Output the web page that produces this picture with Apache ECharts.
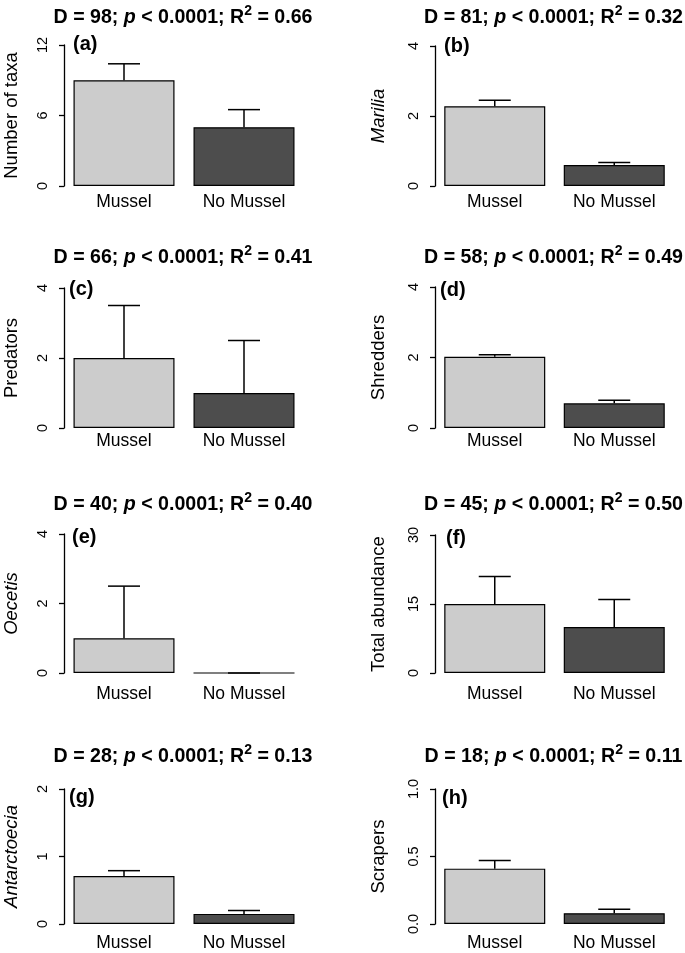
<!DOCTYPE html>
<html>
<head>
<meta charset="utf-8">
<script src="https://cdn.jsdelivr.net/npm/echarts@6/dist/echarts.min.js"></script>
<style>
html,body{margin:0;padding:0;background:#fff;}
#chart{width:685px;height:953px;}
</style>
</head>
<body>
<div id="chart"></div>
<script>
// ---- data ----
const categories = ['Mussel', 'No Mussel'];
const panelTags = ['(a)', '(b)', '(c)', '(d)', '(e)', '(f)', '(g)', '(h)'];
const yNames = ['Number of taxa', 'Marilia', 'Predators', 'Shredders', 'Oecetis', 'Total abundance', 'Antarctoecia', 'Scrapers'];
const italicNames = [false, true, false, false, true, false, true, false];
const dStats = [98, 81, 66, 58, 40, 45, 28, 18];
const pText = '0.0001';
const r2Stats = ['0.66', '0.32', '0.41', '0.49', '0.40', '0.50', '0.13', '0.11'];
const yMax = [12, 4, 4, 4, 4, 30, 2, 1];
const yInterval = [6, 2, 2, 2, 2, 15, 1, 0.5];
// means and upper ends of error bars (Mussel, No Mussel)
const taxaMean = [9.0, 5.0], taxaUpper = [10.4, 6.5];
const mariliaMean = [2.28, 0.6], mariliaUpper = [2.45, 0.67];
const predatorsMean = [2.0, 1.0], predatorsUpper = [3.5, 2.5];
const shreddersMean = [2.02, 0.70], shreddersUpper = [2.08, 0.79];
const oecetisMean = [1.0, 0.0], oecetisUpper = [2.5, 0.0];
const abundanceMean = [15, 10], abundanceUpper = [21, 16];
const antarctoeciaMean = [0.71, 0.15], antarctoeciaUpper = [0.79, 0.20];
const scrapersMean = [0.41, 0.08], scrapersUpper = [0.47, 0.11];
const means = [taxaMean, mariliaMean, predatorsMean, shreddersMean, oecetisMean, abundanceMean, antarctoeciaMean, scrapersMean];
const uppers = [taxaUpper, mariliaUpper, predatorsUpper, shreddersUpper, oecetisUpper, abundanceUpper, antarctoeciaUpper, scrapersUpper];

// ---- layout ----
const FONT = "'Liberation Sans', Arial, Helvetica, sans-serif";
const colLeft = [64, 435];
const colWidth = [240, 239];
const gridTop = [45, 46, 288, 287, 534, 535, 789, 789];
const gridBottom = [186, 186, 428, 428, 673, 673, 928, 928];
const titleTop = [-1, -1, 239, 239, 486, 486, 738, 738];
const catMargin = [6, 6, 3, 3, 11, 11, 9, 9];
const nameGapCol = [42, 46];
const tagPos = [[73, 44.5], [444, 46], [69, 289], [440, 290], [72, 537.5], [446, 538], [69, 797], [442, 798]];
const barColors = ['#CCCCCC', '#4D4D4D'];

const grids = [], xAxes = [], yAxes = [], series = [], titles = [], graphics = [];
for (let i = 0; i < 8; i++) {
  const col = i % 2;
  grids.push({ left: colLeft[col], width: colWidth[col], top: gridTop[i], height: gridBottom[i] - gridTop[i], containLabel: false });
  xAxes.push({
    type: 'category', gridIndex: i, data: categories,
    axisLine: { show: false }, axisTick: { show: false }, splitLine: { show: false },
    axisLabel: { color: '#000', fontSize: 17.5, fontFamily: FONT, margin: catMargin[i], lineHeight: 20 }
  });
  yAxes.push({
    type: 'value', gridIndex: i, min: 0, max: yMax[i], interval: yInterval[i],
    name: yNames[i], nameLocation: 'middle', nameRotate: 90, nameGap: nameGapCol[col],
    nameTextStyle: { color: '#000', fontSize: 18.5, fontFamily: FONT, fontStyle: italicNames[i] ? 'italic' : 'normal', lineHeight: 20 },
    axisLine: { show: true, lineStyle: { color: '#000', width: 1.3 } },
    axisTick: { show: true, length: 5, lineStyle: { color: '#000', width: 1.3 } },
    splitLine: { show: false },
    axisLabel: {
      rotate: 90, color: '#000', fontSize: 14.5, fontFamily: FONT, margin: 13, lineHeight: 16,
      formatter: (v) => (yInterval[i] < 1 ? v.toFixed(1) : String(v))
    }
  });
  series.push({
    type: 'bar', xAxisIndex: i, yAxisIndex: i, barWidth: 101, silent: true,
    data: means[i].map((v, k) => ({ value: v, itemStyle: { color: barColors[k] } })),
    itemStyle: { borderColor: '#000', borderWidth: 1.2 }
  });
  series.push({
    type: 'custom', xAxisIndex: i, yAxisIndex: i, silent: true, z: 5,
    data: means[i].map((v, k) => [k, v, uppers[i][k]]),
    renderItem: function (params, api) {
      const base = api.coord([api.value(0), api.value(1)]);
      const top = api.coord([api.value(0), api.value(2)]);
      const half = 16;
      const st = { stroke: '#000', lineWidth: 1.5 };
      return {
        type: 'group', children: [
          { type: 'line', shape: { x1: base[0], y1: base[1], x2: top[0], y2: top[1] }, style: st },
          { type: 'line', shape: { x1: top[0] - half, y1: top[1], x2: top[0] + half, y2: top[1] }, style: st }
        ]
      };
    }
  });
  const cx = colLeft[col] + colWidth[col] / 2 - 6;
  titles.push({
    left: cx, top: titleTop[i], textAlign: 'center',
    text: '{b|D = ' + dStats[i] + '; }{bi|p}{b| < ' + pText + '; R}{sup|2}{b| = ' + r2Stats[i] + '}',
    textStyle: {
      rich: {
        b: { fontSize: 19.6, fontWeight: 'bold', fontFamily: FONT, color: '#000', lineHeight: 28 },
        bi: { fontSize: 19.6, fontWeight: 'bold', fontStyle: 'italic', fontFamily: FONT, color: '#000', lineHeight: 28 },
        sup: { fontSize: 14, fontFamily: FONT, color: '#000', lineHeight: 14, verticalAlign: 'top' }
      }
    }
  });
  graphics.push({
    type: 'text', x: tagPos[i][0], y: tagPos[i][1], silent: true,
    style: { text: panelTags[i], font: 'bold 20px ' + FONT, fill: '#000', verticalAlign: 'middle', align: 'left' }
  });
}

const chart = echarts.init(document.getElementById('chart'), null, { renderer: 'canvas' });
chart.setOption({
  backgroundColor: '#fff',
  animation: false,
  title: titles,
  grid: grids,
  xAxis: xAxes,
  yAxis: yAxes,
  series: series,
  graphic: graphics
});
</script>
</body>
</html>
